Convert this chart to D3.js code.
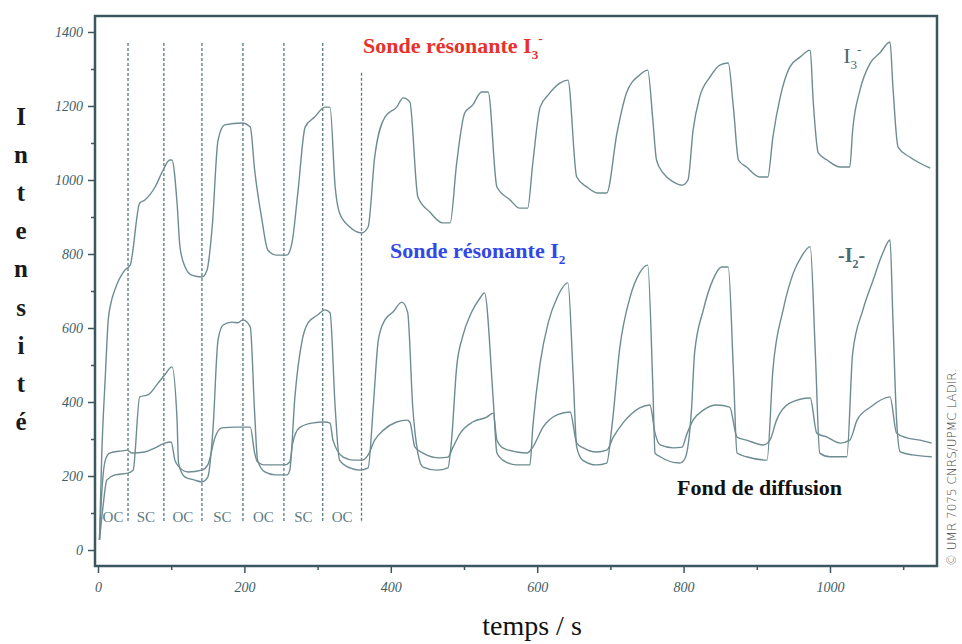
<!DOCTYPE html>
<html>
<head>
<meta charset="utf-8">
<script src="https://cdn.jsdelivr.net/npm/d3@7"></script>
<style>
    body { margin: 0; background: #fff; }
    svg { display: block; }
    .tick text { font-family: "Liberation Serif", serif; font-style: italic; font-size: 14px; fill: #3f5e68; }
    .tick line { stroke: #3a575f; stroke-width: 1.5; }
</style>
</head>
<body>
<div id="chart"></div>
<script>
// time (s), intensity
const i3Series = [
    [2,27],[5,250],[10,470],[14,622],[18,670],[23,703],[37,757],[44,770],[57,938],[64,946],[78,981],[89,1027],
    [98,1054],[101,1054],[108,938],[112,819],[119,765],[128,743],[142,738],[149,757],[156,873],[164,1108],
    [173,1149],[197,1154],[208,1143],[214,1027],[224,892],[232,811],[244,797],[258,797],[265,830],[273,965],
    [283,1143],[296,1170],[310,1197],[317,1197],[324,981],[330,911],[344,873],[360,857],[369,873],[378,1062],
    [392,1170],[408,1197],[417,1222],[426,1211],[437,954],[453,914],[471,884],[481,884],[490,1046],[501,1181],
    [512,1203],[524,1238],[533,1238],[545,981],[563,946],[576,924],[587,924],[594,1046],[604,1197],[615,1230],
    [631,1262],[642,1270],[654,1008],[668,981],[682,965],[695,965],[709,1127],[722,1235],[740,1284],[751,1297],
    [758,1162],[763,1054],[772,1019],[786,995],[798,986],[806,1000],[813,1135],[822,1224],[836,1278],[850,1311],
    [861,1316],[868,1197],[875,1054],[886,1035],[904,1008],[915,1008],[922,1116],[932,1224],[945,1305],[959,1332],
    [973,1351],[977,1216],[984,1073],[996,1054],[1014,1035],[1027,1035],[1031,1135],[1041,1243],[1055,1316],
    [1068,1343],[1082,1373],[1086,1251],[1093,1089],[1109,1062],[1137,1032]
];

const i2Series = [
    [2,27],[7,120],[12,189],[23,203],[41,208],[48,216],[57,414],[68,419],[82,451],[91,473],[101,495],[108,351],
    [110,235],[119,197],[132,189],[142,184],[150,197],[157,324],[164,568],[171,608],[183,616],[191,614],[198,622],
    [208,603],[214,370],[218,243],[228,211],[242,203],[258,203],[262,216],[269,414],[279,568],[287,614],[300,635],
    [310,649],[317,641],[324,386],[330,243],[344,222],[358,216],[369,222],[376,386],[383,568],[392,622],[403,643],
    [415,670],[423,643],[430,386],[437,262],[444,224],[463,216],[478,222],[483,297],[490,495],[498,576],[510,641],
    [522,681],[528,695],[540,405],[545,262],[553,243],[572,230],[590,230],[594,332],[604,505],[615,614],[627,681],
    [642,722],[649,478],[654,278],[662,243],[681,230],[695,235],[702,332],[713,549],[727,684],[740,749],[751,770],
    [758,441],[761,262],[768,252],[795,235],[802,248],[811,386],[815,532],[827,649],[840,730],[852,765],[861,765],
    [868,486],[873,262],[886,252],[914,243],[922,486],[936,649],[950,749],[961,793],[973,820],[980,532],[986,262],
    [1000,252],[1023,252],[1031,532],[1045,649],[1059,730],[1072,802],[1082,838],[1086,622],[1091,351],[1096,265],
    [1113,257],[1139,252]
];

const fondSeries = [
    [2,27],[6,180],[10,243],[16,262],[33,268],[40,270],[46,262],[64,265],[78,276],[91,289],[100,292],[105,243],
    [112,222],[123,211],[142,216],[150,230],[160,305],[169,330],[187,332],[208,332],[214,262],[218,238],[228,230],
    [255,230],[262,238],[266,289],[275,330],[292,343],[310,346],[317,343],[321,297],[335,251],[349,243],[361,243],
    [369,257],[378,297],[390,324],[408,346],[422,351],[426,346],[433,278],[444,262],[467,249],[478,251],[485,278],
    [495,316],[512,346],[531,359],[540,370],[545,297],[553,276],[572,265],[586,262],[594,278],[608,332],[627,365],
    [645,373],[654,289],[663,276],[681,265],[695,270],[704,305],[717,343],[727,365],[740,384],[754,392],[761,316],
    [768,284],[786,276],[798,278],[804,311],[813,351],[827,378],[845,392],[863,386],[873,305],[886,297],[909,284],
    [918,297],[927,351],[945,397],[973,411],[982,316],[996,305],[1014,289],[1027,297],[1037,351],[1055,386],
    [1082,414],[1091,316],[1105,303],[1123,297],[1139,289]
];

// OC / SC switching times and phase names
const switchTimes = [41, 90, 142, 198, 254, 307, 360];
const switchTops = [1370, 1370, 1370, 1370, 1370, 1370, 1290];
const phaseBounds = [0, 41, 90, 142, 198, 254, 307, 360];
const phaseNames = ["OC", "SC", "OC", "SC", "OC", "SC", "OC"];

const xTicks = [0, 200, 400, 600, 800, 1000];
const xMinorTicks = [100, 300, 500, 700, 900, 1100];
const yTicks = [0, 200, 400, 600, 800, 1000, 1200, 1400];
const yMinorTicks = [100, 300, 500, 700, 900, 1100, 1300];
const yLabelLetters = ["I", "n", "t", "e", "n", "s", "i", "t", "é"];

const width = 962, height = 644;
const plot = {left: 95, right: 937, top: 16, bottom: 566};
const serif = '"Liberation Serif", "Times New Roman", serif';
const curveColor = "#6d8c92";

const svg = d3.select("#chart").append("svg")
    .attr("width", width)
    .attr("height", height);

const x = d3.scaleLinear().domain([-4.1, 1146.2]).range([plot.left, plot.right]);
const y = d3.scaleLinear().domain([-43.2, 1443.2]).range([plot.bottom, plot.top]);

// axes
svg.append("g")
    .attr("transform", `translate(0, ${plot.bottom})`)
    .call(d3.axisBottom(x).tickValues(xTicks).tickSize(7).tickPadding(9).tickFormat(d3.format("d")))
    .call(g => g.select(".domain").remove());

svg.append("g")
    .attr("transform", `translate(0, ${plot.bottom})`)
    .call(d3.axisBottom(x).tickValues(xMinorTicks).tickSize(4).tickFormat(""))
    .call(g => g.select(".domain").remove());

svg.append("g")
    .attr("transform", `translate(${plot.left}, 0)`)
    .call(d3.axisLeft(y).tickValues(yTicks).tickSize(7).tickPadding(5).tickFormat(d3.format("d")))
    .call(g => g.select(".domain").remove());

svg.append("g")
    .attr("transform", `translate(${plot.left}, 0)`)
    .call(d3.axisLeft(y).tickValues(yMinorTicks).tickSize(4).tickFormat(""))
    .call(g => g.select(".domain").remove());

// frame
svg.append("rect")
    .attr("x", plot.left)
    .attr("y", plot.top)
    .attr("width", plot.right - plot.left)
    .attr("height", plot.bottom - plot.top)
    .attr("fill", "none")
    .attr("stroke", "#3a575f")
    .attr("stroke-width", 2.5);

// switching lines
svg.selectAll(".switch-line")
    .data(switchTimes)
    .enter()
    .append("line")
    .attr("class", "switch-line")
    .attr("x1", d => x(d))
    .attr("x2", d => x(d))
    .attr("y1", (d, i) => y(switchTops[i]))
    .attr("y2", y(73))
    .attr("stroke", "#587880")
    .attr("stroke-width", 1.3)
    .attr("stroke-dasharray", "3,2");

svg.selectAll(".phase-label")
    .data(phaseNames)
    .enter()
    .append("text")
    .attr("class", "phase-label")
    .attr("x", (d, i) => x((phaseBounds[i] + phaseBounds[i + 1]) / 2))
    .attr("y", y(77))
    .attr("text-anchor", "middle")
    .attr("font-family", serif)
    .attr("font-size", 15)
    .attr("fill", "#5c7b82")
    .text(d => d);

// curves
const line = d3.line()
    .x(d => x(d[0]))
    .y(d => y(d[1]))
    .curve(d3.curveMonotoneX);

[i3Series, i2Series, fondSeries].forEach(series => {
    svg.append("path")
        .attr("d", line(series))
        .attr("fill", "none")
        .attr("stroke", curveColor)
        .attr("stroke-width", 1.4);
});

// annotations
function labelWithIndices(g, base, sub, sup, size) {
    g.append("tspan").text(base);
    if (sub) g.append("tspan").attr("font-size", size * 0.6).attr("dy", size * 0.28).text(sub);
    if (sup) g.append("tspan").attr("font-size", size * 0.6).attr("dy", -size * 0.75).text(sup);
}

let t = svg.append("text")
    .attr("x", x(362)).attr("y", y(1343))
    .attr("font-family", serif).attr("font-weight", "bold").attr("font-size", 22)
    .attr("fill", "#e8302c");
labelWithIndices(t, "Sonde résonante I", "3", "-", 22);

t = svg.append("text")
    .attr("x", x(399)).attr("y", y(789))
    .attr("font-family", serif).attr("font-weight", "bold").attr("font-size", 22)
    .attr("fill", "#3347e6");
labelWithIndices(t, "Sonde résonante I", "2", null, 22);

t = svg.append("text")
    .attr("x", x(1018)).attr("y", y(1316))
    .attr("font-family", serif).attr("font-size", 22)
    .attr("fill", "#4d6a70");
labelWithIndices(t, "I", "3", "-", 22);

t = svg.append("text")
    .attr("x", x(1011)).attr("y", y(778))
    .attr("font-family", serif).attr("font-weight", "bold").attr("font-size", 20)
    .attr("fill", "#4d6a70");
t.append("tspan").text("-I");
t.append("tspan").attr("font-size", 12).attr("dy", 6).text("2");
t.append("tspan").attr("dy", -6).text("-");

svg.append("text")
    .attr("x", x(791)).attr("y", y(149))
    .attr("font-family", serif).attr("font-weight", "bold").attr("font-size", 22)
    .attr("fill", "#111")
    .text("Fond de diffusion");

// axis titles
svg.selectAll(".y-letter")
    .data(yLabelLetters)
    .enter()
    .append("text")
    .attr("class", "y-letter")
    .attr("x", 21)
    .attr("y", (d, i) => 125 + i * 38.1)
    .attr("text-anchor", "middle")
    .attr("font-family", serif)
    .attr("font-weight", "bold")
    .attr("font-size", 25)
    .attr("fill", "#1a1a1a")
    .text(d => d);

svg.append("text")
    .attr("x", 532).attr("y", 635)
    .attr("text-anchor", "middle")
    .attr("font-family", serif)
    .attr("font-size", 28)
    .attr("fill", "#111")
    .text("temps / s");

svg.append("text")
    .attr("transform", "translate(956, 566) rotate(-90)")
    .attr("font-family", '"DejaVu Sans", sans-serif')
    .attr("font-weight", 200)
    .attr("font-size", 12)
    .attr("fill", "#444")
    .text("© UMR 7075 CNRS/UPMC LADIR.");
</script>
</body>
</html>
